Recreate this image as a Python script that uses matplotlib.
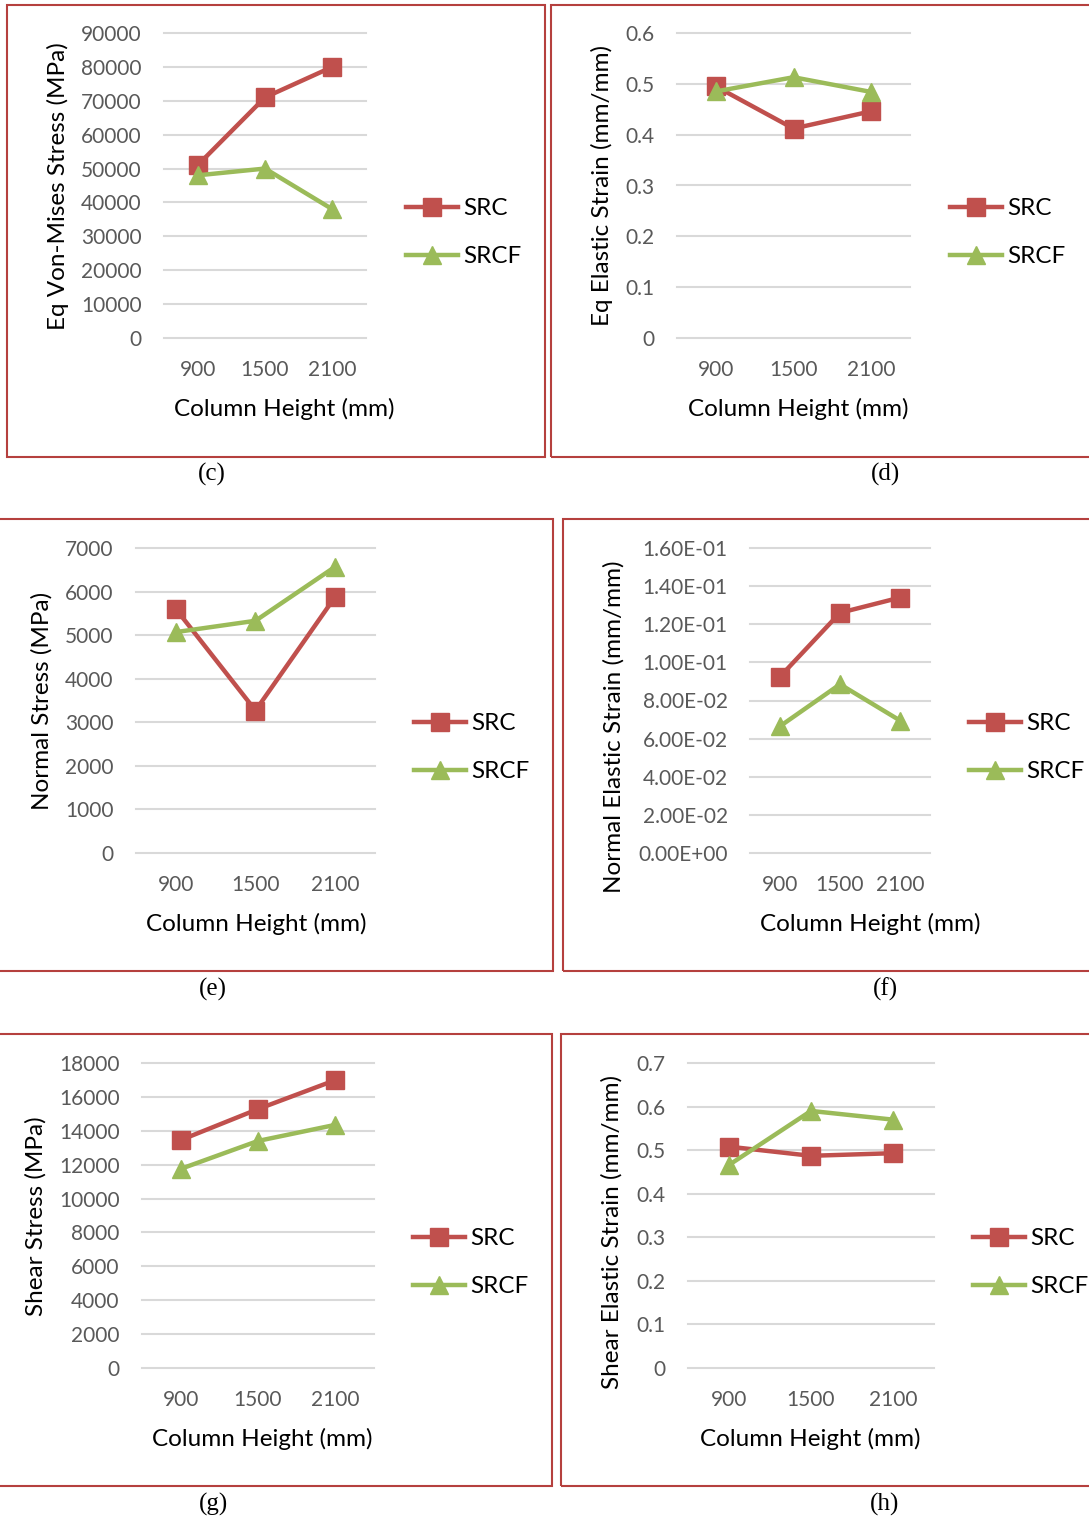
import matplotlib
matplotlib.use('Agg')
import matplotlib.pyplot as plt
from matplotlib.patches import Rectangle
from matplotlib.ticker import FuncFormatter, MultipleLocator

plt.rcParams['font.family'] = ['Lato', 'DejaVu Sans']

heights = ['900', '1500', '2100']

vm_src = [51000, 71000, 80000]          # (c) Eq Von-Mises Stress
vm_srcf = [48000, 50000, 38000]
eq_strain_src = [0.495, 0.412, 0.446]    # (d) Eq Elastic Strain
eq_strain_srcf = [0.485, 0.513, 0.484]
nstress_src = [5600, 3270, 5880]         # (e) Normal Stress
nstress_srcf = [5070, 5330, 6570]
nstrain_src = [0.0925, 0.126, 0.134]     # (f) Normal Elastic Strain
nstrain_srcf = [0.0665, 0.0885, 0.0695]
sstress_src = [13450, 15280, 16990]      # (g) Shear Stress
sstress_srcf = [11750, 13400, 14350]
sstrain_src = [0.508, 0.487, 0.493]      # (h) Shear Elastic Strain
sstrain_srcf = [0.466, 0.590, 0.570]

W, H = 1089, 1521
RED = '#C0504D'
GREEN = '#9BBB59'
FRAME = '#B5403E'

fig = plt.figure(figsize=(W / 100, H / 100), dpi=100)


def fmt_plain(v, pos):
    return '0' if v == 0 else f'{v:g}'


def fmt_sci(v, pos):
    return f'{v:.2E}'


# (frame px, axes px, ylabel, ymax, step, formatter, data, ylabel xy, xlabel xy, legend x, caption, caption xy)
panels = [
    ((7, 5, 545, 457), (164, 366, 33, 338), 'Eq Von-Mises Stress (MPa)', 90000, 10000, fmt_plain,
     (vm_src, vm_srcf), (58, 186), (284, 409), 406, '(c)', (212, 474)),
    ((551, 5, 1095, 457), (677, 910, 33, 338), 'Eq Elastic Strain (mm/mm)', 0.6, 0.1, fmt_plain,
     (eq_strain_src, eq_strain_srcf), (602, 186), (798, 409), 950, '(d)', (885, 474)),
    ((-5, 519, 553, 971), (136, 375, 548, 853), 'Normal Stress (MPa)', 7000, 1000, fmt_plain,
     (nstress_src, nstress_srcf), (42, 701), (256, 924), 414, '(e)', (213, 989)),
    ((563, 519, 1095, 971), (750, 930, 548, 853), 'Normal Elastic Strain (mm/mm)', 0.16, 0.02, fmt_sci,
     (nstrain_src, nstrain_srcf), (614, 727), (870, 924), 969, '(f)', (885, 989)),
    ((-5, 1034, 552, 1486), (142, 374, 1063, 1368), 'Shear Stress (MPa)', 18000, 2000, fmt_plain,
     (sstress_src, sstress_srcf), (36, 1216), (262, 1439), 413, '(g)', (213, 1504)),
    ((561, 1034, 1095, 1486), (688, 934, 1063, 1368), 'Shear Elastic Strain (mm/mm)', 0.7, 0.1, fmt_plain,
     (sstrain_src, sstrain_srcf), (612, 1232), (810, 1439), 973, '(h)', (885, 1504)),
]

for frame, axpx, ylabel, ymax, step, fmt, (src, srcf), ylxy, xlxy, legx, cap, capxy in panels:
    fx0, fy0, fx1, fy1 = frame
    fig.patches.append(Rectangle((fx0 / W, 1 - fy1 / H), (fx1 - fx0) / W, (fy1 - fy0) / H,
                                 transform=fig.transFigure, fill=False, edgecolor=FRAME, lw=1.5))
    x0, x1, y0, y1 = axpx
    ax = fig.add_axes([x0 / W, 1 - y1 / H, (x1 - x0) / W, (y1 - y0) / H])
    xs = range(len(heights))
    ax.plot(xs, src, color=RED, lw=3.2, marker='s', ms=12.5, label='SRC', clip_on=False, zorder=3)
    ax.plot(xs, srcf, color=GREEN, lw=3.2, marker='^', ms=13, label='SRCF', clip_on=False, zorder=4)
    ax.set_xlim(-0.5, len(heights) - 0.5)
    ax.set_ylim(0, ymax)
    ax.set_xticks(list(xs))
    ax.set_xticklabels(heights)
    ax.yaxis.set_major_locator(MultipleLocator(step))
    ax.yaxis.set_major_formatter(FuncFormatter(fmt))
    ax.grid(axis='y', color='#D9D9D9', lw=1.5)
    for gl in ax.get_ygridlines():
        gl.set_clip_on(False)
    ax.set_axisbelow(True)
    for s in ax.spines.values():
        s.set_visible(False)
    ax.tick_params(length=0, labelsize=15, labelcolor='#595959', pad=16)
    ax.set_ylabel(ylabel, fontsize=17.5, color='black')
    ax.yaxis.set_label_coords((ylxy[0] - x0) / (x1 - x0), (y1 - ylxy[1]) / (y1 - y0))
    ax.set_xlabel('Column Height (mm)', fontsize=17.5, color='black')
    ax.xaxis.set_label_coords((xlxy[0] - x0) / (x1 - x0), (y1 - xlxy[1]) / (y1 - y0))
    ax.xaxis.label.set_va('center')
    ax.yaxis.label.set_va('center')
    ax.legend(loc='center left', bbox_to_anchor=((legx - x0) / (x1 - x0), 0.5 - 0.155),
              frameon=False, fontsize=17.5, handlelength=2.15, handletextpad=0.2,
              labelspacing=1.1, borderpad=0, borderaxespad=0, numpoints=1)
    fig.text(capxy[0] / W, 1 - capxy[1] / H, cap, ha='center', va='center',
             fontsize=18, family='Liberation Serif')

fig.savefig('out.png', dpi=100)
